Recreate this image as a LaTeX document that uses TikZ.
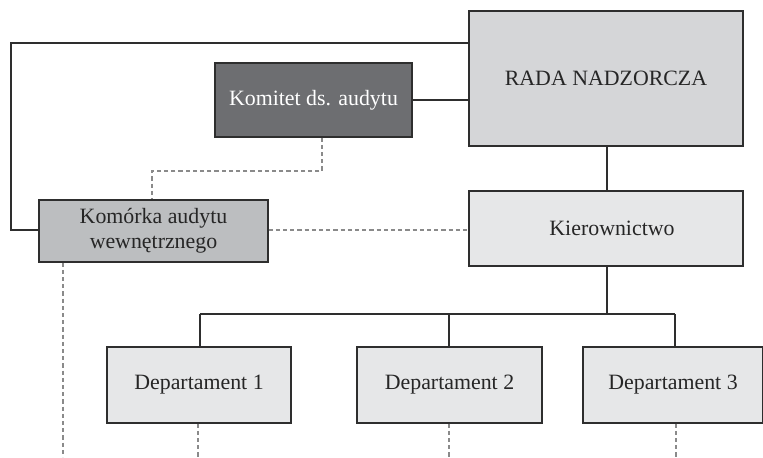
\documentclass[tikz,border=0pt]{standalone}
\usepackage{fontspec}
\setmainfont{Liberation Serif}
\definecolor{bordc}{HTML}{2E2E2E}
\definecolor{radac}{HTML}{D5D6D8}
\definecolor{lightc}{HTML}{E6E7E8}
\definecolor{komc}{HTML}{6D6E71}
\definecolor{celc}{HTML}{BCBEC0}
\definecolor{dashc}{HTML}{8A8A8A}
\begin{document}
\begin{tikzpicture}[x=0.75pt,y=-0.75pt,
  box/.style={draw=bordc,line width=0.9pt,rectangle,inner sep=0pt,align=center,
    font=\fontsize{16.4}{18.75}\selectfont,text=black!85},
  solidln/.style={draw=bordc,line width=0.9pt},
  dashln/.style={draw=dashc,line width=1pt,dash pattern=on 3.2pt off 2.2pt}]
\useasboundingbox (0,0) rectangle (763,457);
\fill[white] (0,0) rectangle (763,457);
\node[box,fill=radac,minimum width=205.5pt,minimum height=101.25pt] (rada) at (606,78.5) {RADA NADZORCZA};
\node[box,fill=komc,text=white,minimum width=147.75pt,minimum height=55.5pt] (komitet) at (313.5,100) {Komitet ds. audytu};
\node[box,fill=celc,minimum width=171.75pt,minimum height=46.5pt] (komorka) at (153.5,231) {Komórka audytu\\wewnętrznego};
\node[box,fill=lightc,minimum width=205.5pt,minimum height=56.25pt] (kier) at (606,228.5) {\hspace*{9pt}Kierownictwo};
\node[box,fill=lightc,minimum width=138pt,minimum height=57pt] (d1) at (199,385) {Departament 1};
\node[box,fill=lightc,minimum width=138.75pt,minimum height=57pt] (d2) at (449.5,385) {Departament 2};
\node[box,fill=lightc,minimum width=135pt,minimum height=57pt] (d3) at (673,385) {Departament 3};
\coordinate (tl) at (11,43);
\coordinate (bl) at (11,230);
\coordinate (busL) at (200,314);
\coordinate (busM) at (449,314);
\coordinate (busR) at (675,314);
\coordinate (busC) at (607,314);
\coordinate (kc) at (322,171);
\coordinate (kc2) at (152,171);
% solid connectors
\draw[solidln] (rada.west |- tl) -- (tl) -- (bl) -- (komorka.west |- bl);
\draw[solidln] (komitet.east) -- (rada.west |- komitet.east);
\draw[solidln] (busC |- rada.south) -- (busC |- kier.north);
\draw[solidln] (busC |- kier.south) -- (busC);
\draw[solidln] (busL) -- (busR);
\draw[solidln] (busL) -- (busL |- d1.north);
\draw[solidln] (busM) -- (busM |- d2.north);
\draw[solidln] (busR) -- (busR |- d3.north);
% dashed connectors
\draw[dashln] (kc |- komitet.south) -- (kc) -- (kc2) -- (kc2 |- komorka.north);
\draw[dashln] (komorka.east |- bl) -- (kier.west |- bl);
\coordinate (e0) at (63,457);
\coordinate (e1) at (198,457);
\coordinate (e2) at (449,457);
\coordinate (e3) at (676,457);
\draw[dashln] (e0 |- komorka.south) -- (e0);
\draw[dashln] (e1 |- d1.south) -- (e1);
\draw[dashln] (e2 |- d2.south) -- (e2);
\draw[dashln] (e3 |- d3.south) -- (e3);
\end{tikzpicture}
\end{document}
